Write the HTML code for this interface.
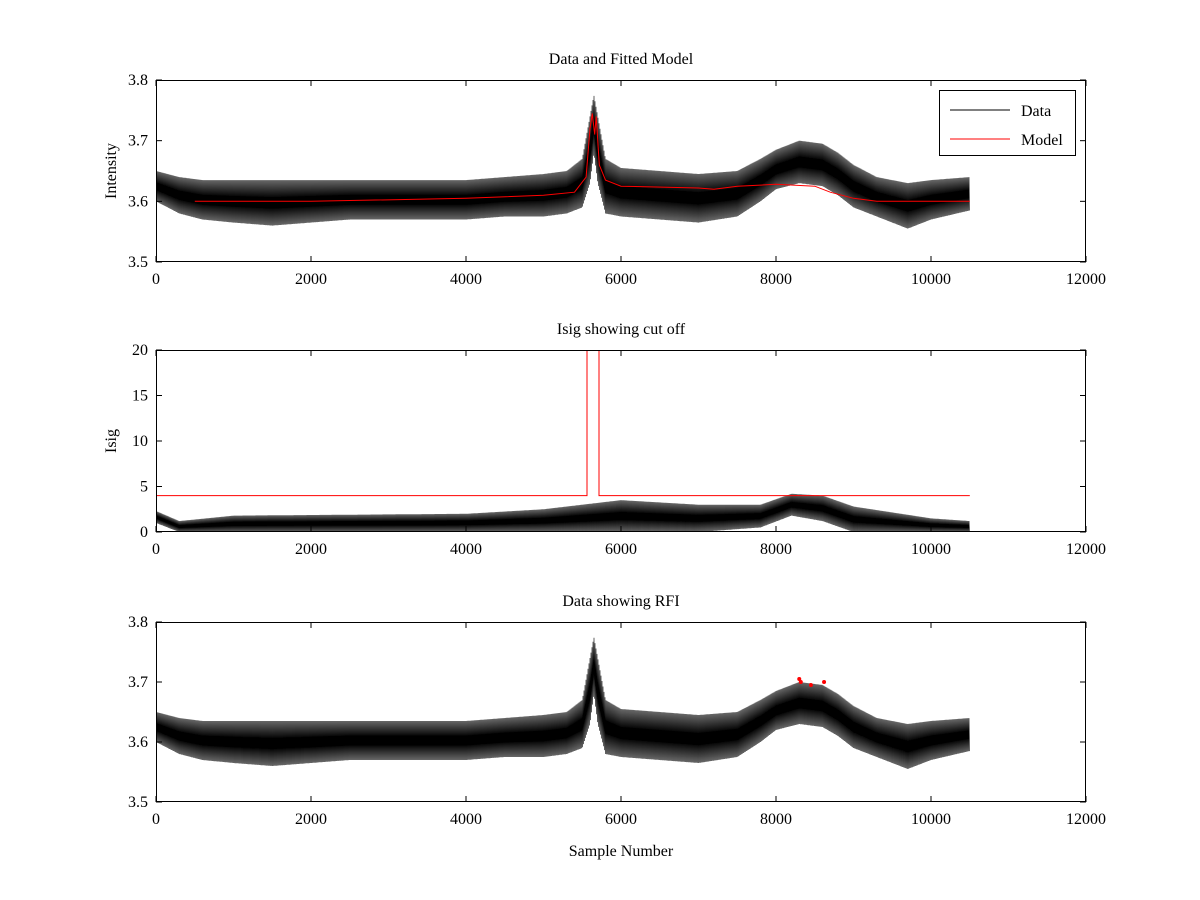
<!DOCTYPE html>
<html><head><meta charset="utf-8"><style>
html,body{margin:0;padding:0;background:#fff;}
svg{display:block;font-family:"Liberation Serif",serif;}
</style></head><body>
<svg id="chart" width="1200" height="900"></svg>
<script>
// ---- data ----
const xTicks=[0,2000,4000,6000,8000,10000,12000];
const intTicks=[3.5,3.6,3.7,3.8];
const isigTicks=[0,5,10,15,20];
const dataX=[0,300,600,1000,1500,2000,2500,3000,3500,4000,4500,5000,5300,5500,5600,5650,5700,5800,6000,6500,7000,7500,7800,8000,8300,8600,8800,9000,9300,9700,10000,10500];
const dataLo=[3.60,3.58,3.57,3.565,3.56,3.565,3.57,3.57,3.57,3.57,3.575,3.575,3.58,3.59,3.63,3.68,3.63,3.58,3.575,3.57,3.565,3.575,3.60,3.62,3.63,3.625,3.61,3.59,3.575,3.555,3.57,3.585];
const dataHi=[3.65,3.64,3.635,3.635,3.635,3.635,3.635,3.635,3.635,3.635,3.64,3.645,3.65,3.67,3.74,3.775,3.74,3.67,3.655,3.65,3.645,3.65,3.67,3.685,3.70,3.695,3.68,3.66,3.64,3.63,3.635,3.64];
const modelX=[500,2000,4000,5000,5400,5550,5600,5630,5660,5680,5720,5800,6000,7000,7200,7500,8000,8500,8700,9000,9300,10500];
const modelY=[3.60,3.60,3.605,3.61,3.615,3.64,3.72,3.745,3.71,3.74,3.66,3.635,3.625,3.622,3.62,3.625,3.628,3.625,3.615,3.605,3.60,3.60];
const isigX=[0,300,1000,4000,5000,6000,7000,7800,8200,8600,9000,10000,10500];
const isigLo=[1.0,0,0,0,0,0,0,0.5,1.8,1.2,0,0,0];
const isigHi=[2.3,1.2,1.8,2.0,2.5,3.5,3.0,3.0,4.2,4.0,2.8,1.5,1.2];
const cutX=[0,5561,5561,5716,5716,10500];
const cutY=[4,4,20,20,4,4];
const rfiX=[8300,8320,8450,8620];
const rfiY=[3.705,3.70,3.695,3.70];

const NS="http://www.w3.org/2000/svg";
const svg=document.getElementById('chart');
function mk(tag,attrs,parent){const e=document.createElementNS(NS,tag);for(const k in attrs)e.setAttribute(k,attrs[k]);(parent||svg).appendChild(e);return e;}
function interp(xs,ys,x){if(x<=xs[0])return ys[0];for(let i=1;i<xs.length;i++){if(x<=xs[i]){const t=(x-xs[i-1])/(xs[i]-xs[i-1]);return ys[i-1]+t*(ys[i]-ys[i-1]);}}return ys[ys.length-1];}

const L=156,R=1086;
function panel(top,bot,ymin,ymax,yTicks,title,ylabel,name){
  const g=mk('g',{});
  
  
  const sx=v=>L+(v/12000)*(R-L);
  const sy=v=>bot-(v-ymin)/(ymax-ymin)*(bot-top);
  const cid='clip-'+name;
  const cp=mk('clipPath',{id:cid},g);mk('rect',{x:L,y:top,width:R-L,height:bot-top},cp);
  const plot=mk('g',{'clip-path':'url(#'+cid+')'},g);
  // ticks
  xTicks.forEach(t=>{const x=sx(t);
    mk('line',{x1:x,y1:bot,x2:x,y2:bot-6,stroke:'#000'},g);mk('line',{x1:x,y1:top,x2:x,y2:top+6,stroke:'#000'},g);
    const tx=mk('text',{x:x,y:bot+22,'text-anchor':'middle','font-size':16},g);tx.textContent=t;
    });
  yTicks.forEach(t=>{const y=sy(t);
    mk('line',{x1:L,y1:y,x2:L+6,y2:y,stroke:'#000'},g);mk('line',{x1:R,y1:y,x2:R-6,y2:y,stroke:'#000'},g);
    const tx=mk('text',{x:L-8,y:y+5,'text-anchor':'end','font-size':16},g);tx.textContent=(ymax<10?t.toFixed(1):t);
    });
  mk('rect',{x:L+0.5,y:top+0.5,width:R-L-1,height:bot-top-1,fill:'none',stroke:'#000'},g);
  const tt=mk('text',{x:(L+R)/2,y:top-16,'text-anchor':'middle','font-size':16},g);tt.textContent=title;
  
  const yl=mk('text',{x:0,y:0,'text-anchor':'middle','font-size':16,transform:`translate(${L-40},${(top+bot)/2}) rotate(-90)`},g);yl.textContent=ylabel;
  
  return {plot,sx,sy};
}
function noisy(p,xs,lo,hi,name){
  let d='';const x0=p.sx(xs[0]),x1=p.sx(xs[xs.length-1]);let k=0;
  for(let px=x0;px<=x1;px+=0.5,k++){
    const v=(px-L)/(R-L)*12000;
    const y=(k%2===0)?p.sy(interp(xs,hi,v)):p.sy(interp(xs,lo,v));
    d+=(k===0?'M':'L')+px.toFixed(2)+' '+y.toFixed(1);
  }
  const e=mk('path',{d:d,fill:'none',stroke:'#000','stroke-width':0.6},p.plot);
  
}
function line(p,xs,ys,color,name){
  const d=xs.map((x,i)=>(i?'L':'M')+p.sx(x).toFixed(1)+' '+p.sy(ys[i]).toFixed(1)).join('');
  const e=mk('path',{d:d,fill:'none',stroke:color,'stroke-width':1},p.plot);
  
}

const p1=panel(80,262,3.5,3.8,intTicks,'Data and Fitted Model','Intensity','panel-fit');
noisy(p1,dataX,dataLo,dataHi,'data-series');
line(p1,modelX,modelY,'#f00','model-series');
// legend
const lg=mk('g',{});
mk('rect',{x:939.5,y:90.5,width:136,height:65,fill:'#fff',stroke:'#000'},lg);
mk('line',{x1:950,y1:110,x2:1010,y2:110,stroke:'#000'},lg);
let t=mk('text',{x:1021,y:116,'font-size':16},lg);t.textContent='Data';
mk('line',{x1:950,y1:139,x2:1010,y2:139,stroke:'#f00'},lg);
t=mk('text',{x:1021,y:145,'font-size':16},lg);t.textContent='Model';

const p2=panel(350,532,0,20,isigTicks,'Isig showing cut off','Isig','panel-isig');
noisy(p2,isigX,isigLo,isigHi,'isig-series');
line(p2,cutX,cutY,'#f00','cutoff-line');

const p3=panel(622,802,3.5,3.8,intTicks,'Data showing RFI','','panel-rfi');
noisy(p3,dataX,dataLo,dataHi,'rfi-data-series');
rfiX.forEach((x,i)=>{const c=mk('circle',{cx:p3.sx(x),cy:p3.sy(rfiY[i]),r:2,fill:'#f00'},p3.plot);
  });
const xl=mk('text',{x:621,y:856,'text-anchor':'middle','font-size':16});xl.textContent='Sample Number';

</script>
</body></html>
